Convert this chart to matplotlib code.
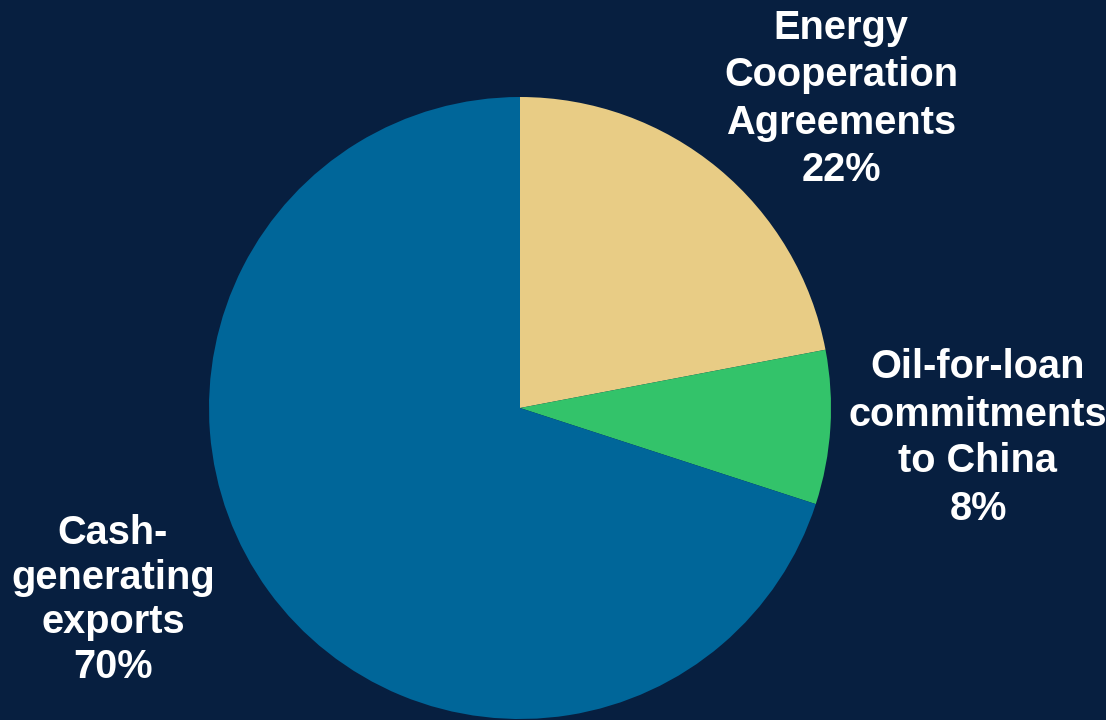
import matplotlib.pyplot as plt

# Data
labels = ["Energy\nCooperation\nAgreements", "Oil-for-loan\ncommitments\nto China", "Cash-\ngenerating\nexports"]
shares = [22, 8, 70]
colors = ["#e8cc85", "#33c36a", "#006699"]
bg = "#071f40"

# label anchor points (pixel space, y from top) and line spacing
label_pos = [(841, 99), (978, 438), (113, 600)]
label_spacing = [1.31, 1.30, 1.22]

fig = plt.figure(figsize=(11.06, 7.2), dpi=100, facecolor=bg)
ax = fig.add_axes([0, 0, 1, 1])
ax.set_facecolor(bg)

ax.pie(shares, colors=colors, startangle=90, counterclock=False,
       center=(520, 720 - 408), radius=311, frame=True,
       wedgeprops=dict(linewidth=0))

for lab, val, (x, y), ls in zip(labels, shares, label_pos, label_spacing):
    ax.text(x, 720 - y, f"{lab}\n{val}%", ha="center", va="center",
            color="white", fontsize=28.6, fontweight="bold",
            family="Liberation Sans", linespacing=ls)

ax.set_xlim(0, 1106)
ax.set_ylim(0, 720)
ax.set_aspect("equal")
ax.axis("off")

fig.savefig("out.png", dpi=100, facecolor=bg)
